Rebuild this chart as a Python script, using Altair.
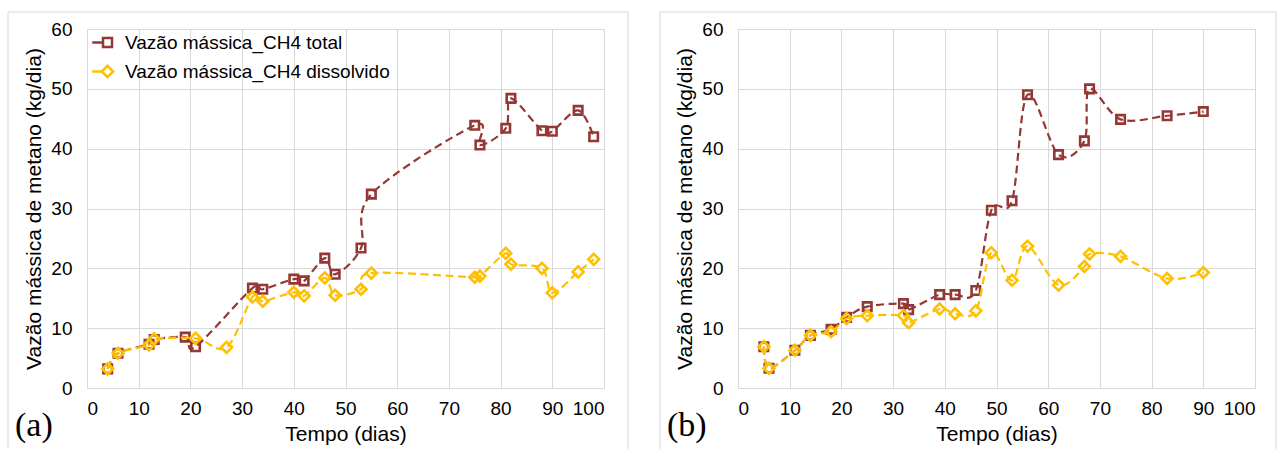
import altair as alt
import pandas as pd

# Panel (a): sampling days and methane mass flow (kg/dia)
A_TOTAL_DIAS = [4, 6, 12, 13, 19, 21, 32, 34, 40, 42, 46, 48, 53, 55, 75, 76, 81, 82, 88, 90, 95, 98]
A_TOTAL_VAL = [3.2, 5.8, 7.3, 8.1, 8.5, 6.9, 16.7, 16.5, 18.2, 17.9, 21.7, 19.0, 23.4, 32.4,
               43.9, 40.6, 43.4, 48.4, 43.0, 42.9, 46.4, 42.0]
A_DISS_DIAS = [4, 6, 12, 13, 21, 27, 32, 34, 40, 42, 46, 48, 53, 55, 75, 76, 81, 82, 88, 90, 95, 98]
A_DISS_VAL = [3.2, 5.8, 7.2, 8.2, 8.3, 6.8, 15.2, 14.5, 16.0, 15.4, 18.4, 15.5, 16.5, 19.2,
              18.5, 18.7, 22.5, 20.7, 20.0, 15.9, 19.4, 21.5]

# Panel (b)
B_TOTAL_DIAS = [5, 6, 11, 14, 18, 21, 25, 32, 33, 39, 42, 46, 49, 53, 56, 62, 67, 68, 74, 83, 90]
B_TOTAL_VAL = [6.9, 3.3, 6.3, 8.8, 9.8, 11.8, 13.6, 14.1, 13.1, 15.6, 15.6, 16.3, 29.7, 31.3,
               49.0, 39.0, 41.3, 50.0, 44.9, 45.5, 46.2]
B_DISS_DIAS = [5, 6, 11, 14, 18, 21, 25, 32, 33, 39, 42, 46, 49, 53, 56, 62, 67, 68, 74, 83, 90]
B_DISS_VAL = [6.9, 3.3, 6.3, 8.8, 9.4, 11.6, 12.1, 12.1, 10.9, 13.2, 12.4, 12.9, 22.6, 18.0,
              23.7, 17.2, 20.3, 22.4, 22.0, 18.3, 19.3]

SERIES = ["Vazão mássica_CH4 total", "Vazão mássica_CH4 dissolvido"]
PANEL_LABELS = ["(a)", "(b)"]
X_TICKS = list(range(0, 101, 10))
Y_TICKS = list(range(0, 61, 10))

RED = "#953735"
GOLD = "#FFC000"
GRID = "#d9d9d9"
FONT = "Liberation Sans"

# legend glyphs: a dash followed by the marker, in unit symbol coordinates
LEGEND_SHAPES = [
    "M-3.4,0H-1M-1,-1H1V1H-1Z",
    "M-3.4,0H-1.25M-1.25,0L0,-1.25L1.25,0L0,1.25Z",
]

W, H = 517, 359


def series_frame(dias, vals, name):
    return pd.DataFrame({"dias": dias, "vazao": vals, "serie": name})


def panel(label, tot_d, tot_v, dis_d, dis_v, left, right):
    tot = series_frame(tot_d, tot_v, SERIES[0])
    dis = series_frame(dis_d, dis_v, SERIES[1])
    both = pd.concat([tot, dis], ignore_index=True)

    x = alt.X("dias:Q", title="Tempo (dias)",
              scale=alt.Scale(domain=[0, 100], nice=False),
              axis=alt.Axis(values=X_TICKS, format="d"))
    y = alt.Y("vazao:Q", title="Vazão mássica de metano (kg/dia)",
              scale=alt.Scale(domain=[0, 60], nice=False),
              axis=alt.Axis(values=Y_TICKS, format="d"))

    def line(df, color):
        return alt.Chart(df).mark_line(
            color=color, strokeWidth=2.2, strokeDash=[8, 4.5], interpolate="cardinal"
        ).encode(x=x, y=y)

    def pts(df, color, shape, size):
        return alt.Chart(df).mark_point(
            shape=shape, filled=False, color=color, strokeWidth=2.6, size=size, opacity=1
        ).encode(x=x, y=y)

    legend_layer = alt.Chart(both).mark_point(filled=False, opacity=0, strokeWidth=2.5).encode(
        x=x, y=y,
        color=alt.Color("serie:N", scale=alt.Scale(domain=SERIES, range=[RED, GOLD]),
                        sort=SERIES,
                        legend=alt.Legend(title=None, orient="none", legendX=11, legendY=4)),
        shape=alt.Shape("serie:N", scale=alt.Scale(domain=SERIES, range=LEGEND_SHAPES),
                        sort=SERIES,
                        legend=alt.Legend(title=None, orient="none", legendX=11, legendY=4)),
    )

    lab = pd.DataFrame({"label": [label]})
    tag = alt.Chart(lab).mark_text(
        font="Liberation Serif", fontSize=34, align="left", baseline="middle", color="black"
    ).encode(x=alt.value(left + 7), y=alt.value(397), text="label:N")

    frame_l = alt.Chart(lab).mark_rule(color=GRID, strokeWidth=1).encode(
        x=alt.value(left), y=alt.value(-17), y2=alt.value(420))
    frame_r = alt.Chart(lab).mark_rule(color=GRID, strokeWidth=1).encode(
        x=alt.value(right), y=alt.value(-17), y2=alt.value(420))
    frame_t = alt.Chart(lab).mark_rule(color=GRID, strokeWidth=1).encode(
        x=alt.value(left), x2=alt.value(right), y=alt.value(-17))

    return alt.layer(
        frame_l, frame_r, frame_t,
        line(tot, RED), pts(tot, RED, "square", 72),
        line(dis, GOLD), pts(dis, GOLD, "diamond", 120),
        legend_layer, tag,
    ).properties(width=W, height=H)


pa = panel(PANEL_LABELS[0], A_TOTAL_DIAS, A_TOTAL_VAL, A_DISS_DIAS, A_DISS_VAL, -79, 541)
pb = panel(PANEL_LABELS[1], B_TOTAL_DIAS, B_TOTAL_VAL, B_DISS_DIAS, B_DISS_VAL, -78, 538)

chart = alt.hconcat(pa, pb, spacing=30).properties(
    padding={"left": 7, "top": 11, "right": 0, "bottom": 0},
    background="white",
).configure_view(
    stroke=GRID, strokeWidth=1
).configure_axis(
    grid=True, gridColor=GRID, gridWidth=1,
    domainColor=GRID, ticks=False,
    labelFont=FONT, labelFontSize=19, labelColor="black",
    titleFont=FONT, titleFontSize=21, titleFontWeight="normal", titleColor="black",
).configure_axisX(
    labelPadding=11, titlePadding=5,
).configure_axisY(
    labelPadding=15, titlePadding=6,
).configure_legend(
    labelFont=FONT, labelFontSize=19, labelColor="black", labelLimit=500,
    symbolSize=81, symbolStrokeWidth=2.5, symbolOpacity=1,
    labelOffset=8, rowPadding=7, padding=0,
)

chart.save("out.html", embed_options={"renderer": "svg", "actions": False})
